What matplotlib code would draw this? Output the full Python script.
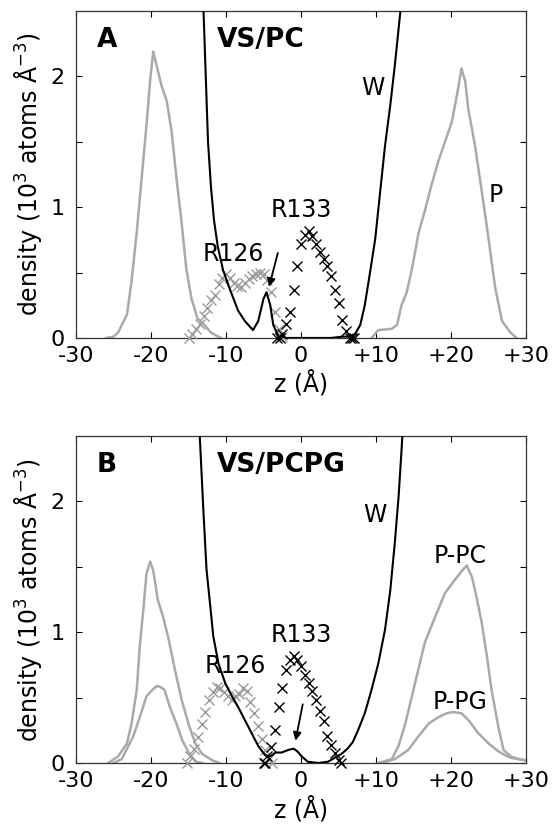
#!/usr/bin/env python3
# -*- coding: utf-8 -*-
"""
Density profiles along the bilayer normal for VS/PC and VS/PCPG
"""

import matplotlib
matplotlib.use("Agg")
import matplotlib.pyplot as plt

# ---------------- panel A : VS/PC ----------------
a_p_left_z = [-26.0, -25.0, -24.4, -23.2, -22.6, -21.9, -21.25, -20.6, -20.1, -19.7, -19.2,
              -18.6, -17.9, -17.25, -16.6, -15.9, -15.3, -14.6, -13.8, -12.9, -12.0, -10.7]
a_p_left = [0.0, 0.01, 0.04, 0.18, 0.43, 0.81, 1.22, 1.63, 1.98, 2.19, 2.07,
            1.93, 1.81, 1.58, 1.22, 0.87, 0.53, 0.30, 0.15, 0.10, 0.04, 0.0]
a_p_right_z = [9.4, 10.3, 12.1, 12.8, 13.4, 14.1, 14.8, 15.7, 16.5, 17.4, 18.3, 19.2,
               20.1, 20.8, 21.4, 21.9, 22.3, 23.2, 24.1, 25.0, 25.9, 26.8, 27.8, 28.7]
a_p_right = [0.0, 0.06, 0.07, 0.10, 0.25, 0.35, 0.53, 0.81, 0.97, 1.17, 1.35, 1.50,
             1.65, 1.86, 2.06, 1.96, 1.75, 1.47, 1.12, 0.76, 0.38, 0.13, 0.05, 0.0]
a_w_z = [-13.3, -13.0, -12.7, -12.4, -12.0, -11.6, -11.1, -10.4, -9.6, -9.0, -8.4, -7.5,
         -6.4, -5.7, -5.0, -4.6, -4.1, -3.7, -3.0, -2.0, 0.0, 2.0, 4.0, 5.5, 6.3, 7.2,
         7.9, 8.5, 9.2, 9.9, 10.5, 11.2, 11.9, 12.5, 13.2, 13.6]
a_w = [3.0, 2.5, 2.0, 1.5, 1.15, 0.90, 0.70, 0.52, 0.39, 0.30, 0.21, 0.13,
       0.06, 0.13, 0.30, 0.35, 0.25, 0.10, 0.01, 0.0, 0.0, 0.0, 0.0, 0.01, 0.01, 0.03,
       0.10, 0.25, 0.50, 0.76, 1.09, 1.47, 1.78, 2.08, 2.47, 2.7]
a_r126_z = [-15.0, -14.5, -14.0, -13.5, -13.0, -12.5, -12.0, -11.5, -11.0, -10.5, -10.0,
            -9.5, -9.0, -8.5, -8.0, -7.5, -7.0, -6.5, -6.0, -5.5, -5.0, -4.5, -4.0,
            -3.5, -3.0, -2.6]
a_r126 = [0.0, 0.03, 0.07, 0.11, 0.17, 0.23, 0.29, 0.33, 0.41, 0.46, 0.49,
          0.46, 0.42, 0.40, 0.39, 0.42, 0.45, 0.47, 0.49, 0.50, 0.49, 0.44, 0.35,
          0.20, 0.07, 0.01]
a_r133_z = [-3.2, -2.8, -2.5, -2.0, -1.5, -1.0, -0.5, 0.0, 0.5, 1.0, 1.5, 2.0, 2.5, 3.0,
            3.5, 4.0, 4.5, 5.0, 5.5, 6.0, 6.5, 6.8, 7.0]
a_r133 = [0.0, 0.0, 0.03, 0.11, 0.20, 0.37, 0.55, 0.72, 0.79, 0.82, 0.78, 0.72, 0.66, 0.60,
          0.55, 0.47, 0.37, 0.27, 0.14, 0.05, 0.0, 0.0, 0.0]

# ---------------- panel B : VS/PCPG ----------------
b_ppc_left_z = [-25.7, -24.4, -23.2, -22.6, -21.9, -21.5, -21.0, -20.6, -20.1, -19.7,
                -19.1, -18.4, -17.7, -16.8, -15.9, -15.0, -14.1, -13.2, -11.8, -10.9]
b_ppc_left = [0.0, 0.05, 0.15, 0.30, 0.56, 0.89, 1.19, 1.45, 1.54, 1.47,
              1.25, 1.12, 0.96, 0.71, 0.48, 0.30, 0.15, 0.07, 0.02, 0.0]
b_ppg_left_z = [-25.0, -23.9, -22.4, -21.5, -20.6, -19.8, -19.2, -18.7, -18.2, -17.5,
                -16.6, -15.8, -14.9, -14.0, -13.1]
b_ppg_left = [0.0, 0.03, 0.20, 0.35, 0.51, 0.56, 0.59, 0.58, 0.56, 0.43,
              0.30, 0.17, 0.07, 0.01, 0.0]
b_ppc_right_z = [10.3, 12.1, 13.0, 13.9, 15.2, 16.5, 17.9, 19.2, 20.5, 21.6, 22.1, 22.8,
                 23.4, 24.1, 24.8, 25.4, 26.3, 27.0, 28.0, 29.0, 30.0]
b_ppc_right = [0.0, 0.03, 0.13, 0.30, 0.61, 0.92, 1.12, 1.30, 1.40, 1.48, 1.51, 1.42,
               1.27, 1.07, 0.81, 0.56, 0.28, 0.10, 0.05, 0.03, 0.02]
b_ppg_right_z = [10.8, 12.5, 14.3, 15.6, 17.0, 18.3, 19.4, 20.3, 21.4, 22.3, 23.6, 25.0,
                 26.3, 27.2, 28.0, 29.0, 30.0]
b_ppg_right = [0.0, 0.03, 0.10, 0.20, 0.30, 0.35, 0.38, 0.39, 0.38, 0.33, 0.23, 0.15,
               0.09, 0.06, 0.04, 0.03, 0.02]
b_w_z = [-13.7, -13.5, -13.0, -12.6, -12.1, -11.7, -11.0, -10.1, -9.2, -8.4, -7.5, -6.6,
         -5.7, -4.8, -4.1, -3.4, -2.6, -1.7, -1.0, -0.5, 0.1, 0.9, 2.3, 3.6, 4.5, 5.4,
         6.2, 6.9, 7.6, 8.5, 9.4, 10.3, 11.2, 11.9, 12.5, 13.0, 13.4, 13.7]
b_w = [2.8, 2.5, 1.91, 1.48, 1.20, 0.97, 0.76, 0.61, 0.51, 0.43, 0.33, 0.23,
       0.13, 0.06, 0.05, 0.08, 0.08, 0.10, 0.11, 0.09, 0.05, 0.01, 0.0, 0.01, 0.04, 0.07,
       0.11, 0.16, 0.25, 0.38, 0.56, 0.76, 1.02, 1.32, 1.68, 2.03, 2.39, 2.7]
b_r126_z = [-15.25, -14.75, -14.25, -13.75, -13.25, -12.75, -12.25, -11.75, -11.25,
            -10.75, -10.25, -9.75, -9.25, -8.75, -8.25, -7.75, -7.25, -6.75, -6.25,
            -5.75, -5.25, -4.75, -4.25, -3.9]
b_r126 = [0.0, 0.05, 0.11, 0.20, 0.30, 0.39, 0.48, 0.54, 0.58,
          0.57, 0.54, 0.51, 0.48, 0.51, 0.53, 0.57, 0.55, 0.47, 0.38,
          0.28, 0.18, 0.10, 0.03, 0.0]
b_r133_z = [-5.0, -4.8, -4.5, -4.0, -3.5, -3.0, -2.5, -2.0, -1.5, -1.0, -0.5, 0.0, 0.5,
            1.0, 1.5, 2.0, 2.5, 3.0, 3.5, 4.0, 4.5, 5.0, 5.3]
b_r133 = [0.0, 0.0, 0.05, 0.12, 0.25, 0.43, 0.57, 0.71, 0.79, 0.82, 0.79, 0.74, 0.67,
          0.61, 0.55, 0.48, 0.40, 0.32, 0.21, 0.14, 0.08, 0.02, 0.0]

xticks = [-30, -20, -10, 0, 10, 20, 30]
xticklabels = ['-30', '-20', '-10', '0', '+10', '+20', '+30']
yticks = [0, 0.5, 1, 1.5, 2]
yticklabels = ['0', '', '1', '', '2']

GREY = '#aaaaaa'
ticksize = 16
labelsize = 17


def style_axes(ax):
    ax.set_xlim(-30, 30)
    ax.set_ylim(0, 2.5)
    ax.set_xticks(xticks)
    ax.set_xticklabels(xticklabels)
    ax.set_yticks(yticks)
    ax.set_yticklabels(yticklabels)
    ax.tick_params(direction='in', length=4, width=0.8, top=True, right=True,
                   labelsize=ticksize)
    ax.tick_params(axis='x', pad=6)
    ax.tick_params(axis='y', pad=8)
    ax.set_xlabel('z (Å)', fontsize=labelsize, labelpad=3)
    ax.set_ylabel('density (10$^3$ atoms Å$^{-3}$)', fontsize=labelsize, labelpad=5)
    for s in ax.spines.values():
        s.set_linewidth(0.9)
        s.set_color('#333333')


def residue(ax, z, v, color):
    ax.plot(z, v, linestyle='none', marker='x', color=color, markersize=6.5,
            markeredgewidth=1.0, clip_on=False, zorder=3)


fig = plt.figure(figsize=(5.54, 8.32), dpi=100)
axA = fig.add_axes([0.1372, 0.5938, 0.8123, 0.3930])
axB = fig.add_axes([0.1372, 0.0829, 0.8123, 0.3930])

# panel A
axA.plot(a_p_left_z, a_p_left, color=GREY, lw=1.8)
axA.plot(a_p_right_z, a_p_right, color=GREY, lw=1.8)
residue(axA, a_r126_z, a_r126, '#9a9a9a')
residue(axA, a_r133_z, a_r133, 'black')
axA.plot(a_w_z, a_w, color='black', lw=1.5, zorder=4)
axA.text(-27.2, 2.28, 'A', fontsize=19, fontweight='bold', va='center')
axA.text(-11.2, 2.28, 'VS/PC', fontsize=19, fontweight='bold', va='center')
axA.text(9.6, 1.91, 'W', fontsize=17, ha='center', va='center')
axA.text(25.9, 1.09, 'P', fontsize=17, ha='center', va='center')
axA.text(-9.0, 0.64, 'R126', fontsize=17, ha='center', va='center')
axA.text(0.1, 0.98, 'R133', fontsize=17, ha='center', va='center')
axA.annotate('', xy=(-4.36, 0.37), xytext=(-3.0, 0.67),
             arrowprops=dict(arrowstyle='-|>', color='black', lw=1.3, mutation_scale=12))
style_axes(axA)

# panel B
axB.plot(b_ppc_left_z, b_ppc_left, color=GREY, lw=1.8)
axB.plot(b_ppg_left_z, b_ppg_left, color=GREY, lw=1.8)
axB.plot(b_ppc_right_z, b_ppc_right, color=GREY, lw=1.8)
axB.plot(b_ppg_right_z, b_ppg_right, color=GREY, lw=1.8)
residue(axB, b_r126_z, b_r126, '#9a9a9a')
residue(axB, b_r133_z, b_r133, 'black')
axB.plot(b_w_z, b_w, color='black', lw=1.5, zorder=4)
axB.text(-27.2, 2.28, 'B', fontsize=19, fontweight='bold', va='center')
axB.text(-11.2, 2.28, 'VS/PCPG', fontsize=19, fontweight='bold', va='center')
axB.text(9.9, 1.90, 'W', fontsize=17, ha='center', va='center')
axB.text(21.2, 1.58, 'P-PC', fontsize=17, ha='center', va='center')
axB.text(21.2, 0.47, 'P-PG', fontsize=17, ha='center', va='center')
axB.text(-8.8, 0.74, 'R126', fontsize=17, ha='center', va='center')
axB.text(0.1, 0.98, 'R133', fontsize=17, ha='center', va='center')
axB.annotate('', xy=(-0.8, 0.15), xytext=(0.3, 0.47),
             arrowprops=dict(arrowstyle='-|>', color='black', lw=1.3, mutation_scale=12))
style_axes(axB)

fig.savefig('out.png', dpi=100)
